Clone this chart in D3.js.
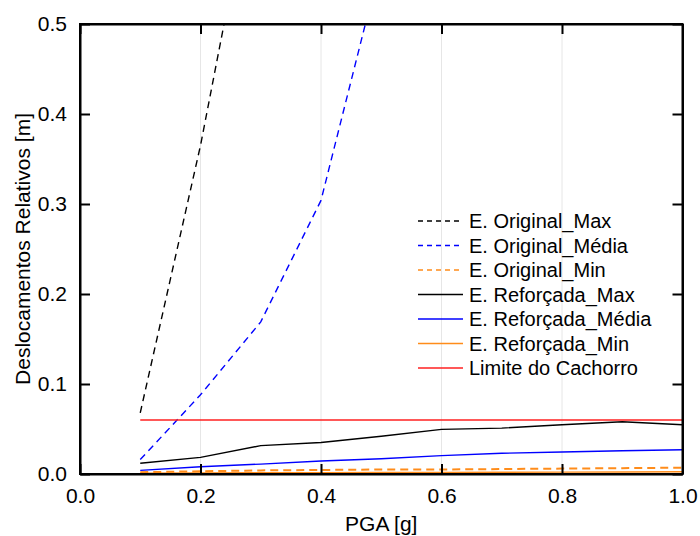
<!DOCTYPE html>
<html>
<head>
<meta charset="utf-8">
<script src="https://cdn.jsdelivr.net/npm/d3@7"></script>
<style>
  body { margin: 0; background: #fff }
  svg { display: block; font-family: "Liberation Sans", Arial, sans-serif }
</style>
</head>
<body>
<div id="chart"></div>
<script>
var pga = [0.1, 0.2, 0.3, 0.4, 0.5, 0.6, 0.7, 0.8, 0.9, 1.0]

// estruturas original (só os pontos visíveis antes de sair do gráfico)
var origMaxX = [0.1, 0.2, 0.3]
var origMax = [0.068, 0.365, 0.71]
var origMediaX = [0.1, 0.2, 0.3, 0.4, 0.5]
var origMedia = [0.016, 0.088, 0.169, 0.304, 0.57]
var origMin = [0.002, 0.003, 0.004, 0.0045, 0.005, 0.005, 0.0055, 0.006, 0.0065, 0.007]

// estrutura reforçada
var refMax = [0.012, 0.0185, 0.0315, 0.035, 0.042, 0.0496, 0.051, 0.0548, 0.058, 0.0548]
var refMedia = [0.004, 0.008, 0.011, 0.0144, 0.017, 0.0204, 0.023, 0.0244, 0.0259, 0.027]
var refMin = [0.001, 0.0012, 0.0014, 0.0015, 0.0017, 0.0018, 0.002, 0.0021, 0.0023, 0.0025]

var limite = 0.06

var xTicks = [0, 0.2, 0.4, 0.6, 0.8, 1.0]
var yTicks = [0, 0.1, 0.2, 0.3, 0.4, 0.5]

var series = [
  { name: "E. Original_Max", xs: origMaxX, ys: origMax, color: "#000000", dash: "7,5", w: 1.4 },
  { name: "E. Original_Média", xs: origMediaX, ys: origMedia, color: "#0000ff", dash: "7,5", w: 1.4 },
  { name: "E. Original_Min", xs: pga, ys: origMin, color: "#ff8c1a", dash: "8,5", w: 2 },
  { name: "E. Reforçada_Max", xs: pga, ys: refMax, color: "#000000", dash: null, w: 1.4 },
  { name: "E. Reforçada_Média", xs: pga, ys: refMedia, color: "#0000ff", dash: null, w: 1.4 },
  { name: "E. Reforçada_Min", xs: pga, ys: refMin, color: "#ff8c1a", dash: null, w: 1.4 },
  { name: "Limite do Cachorro", xs: pga, ys: pga.map(function() { return limite }), color: "#ff2020", dash: null, w: 1.4 }
]

var width = 700, height = 536
var m = { left: 80, top: 24, right: 17.5, bottom: 62 }

var x = d3.scaleLinear().domain([0, 1]).range([m.left, width - m.right])
var y = d3.scaleLinear().domain([0, 0.5]).range([height - m.bottom, m.top])

var svg = d3.select("#chart").append("svg")
  .attr("width", width)
  .attr("height", height)

svg.append("clipPath").attr("id", "plot")
  .append("rect")
  .attr("x", x(0)).attr("y", y(0.5))
  .attr("width", x(1) - x(0)).attr("height", y(0) - y(0.5))

// grade vertical
svg.append("g")
  .selectAll("line")
  .data(xTicks.slice(1, -1))
  .enter().append("line")
  .attr("x1", function(d) { return x(d) }).attr("x2", function(d) { return x(d) })
  .attr("y1", y(0)).attr("y2", y(0.5))
  .attr("stroke", "#e6e6e6")
  .attr("stroke-width", 1)

var line = d3.line()
  .x(function(d) { return x(d[0]) })
  .y(function(d) { return y(d[1]) })

svg.append("g")
  .attr("clip-path", "url(#plot)")
  .selectAll("path")
  .data(series)
  .enter().append("path")
  .attr("d", function(s) { return line(s.xs.map(function(v, i) { return [v, s.ys[i]] })) })
  .attr("fill", "none")
  .attr("stroke", function(s) { return s.color })
  .attr("stroke-width", function(s) { return s.w })
  .attr("stroke-dasharray", function(s) { return s.dash })

// eixos com ticks para dentro
function fmt(d) { return d3.format(".1f")(d) }

svg.append("g")
  .attr("transform", "translate(0," + y(0) + ")")
  .call(d3.axisBottom(x).tickValues(xTicks).tickFormat(fmt).tickSizeInner(-10).tickSizeOuter(0).tickPadding(14))
svg.append("g")
  .attr("transform", "translate(0," + y(0.5) + ")")
  .call(d3.axisTop(x).tickValues(xTicks).tickFormat("").tickSizeInner(-10).tickSizeOuter(0))
svg.append("g")
  .attr("transform", "translate(" + x(0) + ",0)")
  .call(d3.axisLeft(y).tickValues(yTicks).tickFormat(fmt).tickSizeInner(-10).tickSizeOuter(0).tickPadding(13))
svg.append("g")
  .attr("transform", "translate(" + x(1) + ",0)")
  .call(d3.axisRight(y).tickValues(yTicks).tickFormat("").tickSizeInner(-10).tickSizeOuter(0))

svg.selectAll(".domain").attr("stroke", "#000").attr("stroke-width", 2)
svg.selectAll(".tick line").attr("stroke", "#000").attr("stroke-width", 2)
svg.selectAll(".tick text")
  .attr("fill", "#000")
  .style("font-size", "21px")
  .style("font-family", "Liberation Sans, Arial, sans-serif")

svg.append("rect")
  .attr("x", x(0)).attr("y", y(0.5))
  .attr("width", x(1) - x(0)).attr("height", y(0) - y(0.5))
  .attr("fill", "none")
  .attr("stroke", "#000")
  .attr("stroke-width", 2)

svg.append("text")
  .attr("x", (x(0) + x(1)) / 2)
  .attr("y", 531)
  .attr("text-anchor", "middle")
  .style("font-size", "21px")
  .text("PGA [g]")

svg.append("text")
  .attr("transform", "translate(30," + (y(0) + y(0.5)) / 2 + ") rotate(-90)")
  .attr("text-anchor", "middle")
  .style("font-size", "21px")
  .text("Deslocamentos Relativos [m]")

// legenda
var legend = svg.append("g")
  .selectAll("g")
  .data(series)
  .enter().append("g")
  .attr("transform", function(d, i) { return "translate(418," + (221 + i * 24.5) + ")" })

legend.append("line")
  .attr("x1", 0).attr("x2", 45)
  .attr("stroke", function(s) { return s.color })
  .attr("stroke-width", 1.4)
  .attr("stroke-dasharray", function(s) { return s.dash ? "5,4" : null })

legend.append("text")
  .attr("x", 51)
  .attr("dy", "0.35em")
  .style("font-size", "20px")
  .text(function(s) { return s.name })
</script>
</body>
</html>
